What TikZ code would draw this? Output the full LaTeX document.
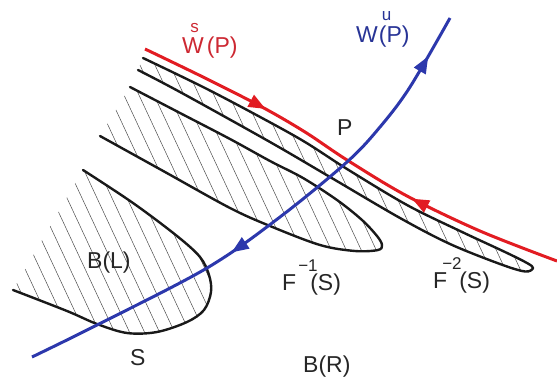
\documentclass[tikz,border=0pt]{standalone}
\usepackage{fontspec}
\setmainfont{Liberation Sans}
\usetikzlibrary{decorations.markings,arrows.meta}
\definecolor{wsred}{RGB}{226,28,34}
\definecolor{wublue}{RGB}{44,56,172}
\definecolor{wslab}{RGB}{205,40,50}
\definecolor{wulab}{RGB}{40,52,150}
\newcommand\supsz{\fontsize{17}{17}\selectfont}
\newcommand\tongueTwo{plot[smooth,tension=0.55] coordinates {(143,58) (205,88) (262,118) (305,142) (347,169) (407,205) (460,231) (505,252) (527,263) (533,268) (525,271.5) (500,264) (450,244) (400,218) (330,177) (270,142) (180,92) (138,70)}}
\newcommand\tongueOne{plot[smooth,tension=0.55] coordinates {(130,87) (180,113) (230,139) (270,161) (303,178) (337,200) (362,220) (377,236) (382,245) (378,250) (355,251) (320,245) (270,226) (230,208) (165,172) (100,136)}}
\newcommand\tongueS{plot[smooth,tension=0.55] coordinates {(83,170) (133,203) (177,236) (200,257) (209,275) (211,292) (204,310) (187,322) (157,332) (127,333) (97,324) (67,311) (13,290)}}
\tikzset{
  manifold/.style={line width=3pt},
  bdry/.style={line width=2.4pt, line join=round, line cap=round, black!90},
  hatchline/.style={line width=0.5pt, black!70},
  lab/.style={inner sep=0pt, anchor=base west, font=\fontsize{23}{26}\selectfont, text=black!85},
  headtip/.tip={Triangle[length=17pt,width=13pt]}
}
\begin{document}
\begin{tikzpicture}[x=1pt,y=-1pt]
\useasboundingbox (0,0) rectangle (557,378);
% hatching of the basin B(L)
\begin{scope}
  \clip \tongueTwo -- cycle \tongueOne -- cycle \tongueS -- cycle;
  \foreach \x in {-300,-285,...,600} \draw[hatchline] (\x,-10) -- ++(186.5,400);
\end{scope}
% boundaries
\draw[bdry] \tongueTwo;
\draw[bdry] \tongueOne;
\draw[bdry] \tongueS;
% stable manifold
\draw[manifold, wsred, postaction=decorate, decoration={markings,
   mark=at position 0.29 with {\arrow{headtip}},
   mark=at position 0.66 with {\arrowreversed{headtip}}}]
  plot[smooth,tension=0.55] coordinates {(145,49) (205,78) (262,107) (305,132) (347,160) (407,196) (480,231) (557,261)};
% unstable manifold
\draw[manifold, wublue, postaction=decorate, decoration={markings,
   mark=at position 0.41 with {\arrowreversed{headtip}},
   mark=at position 0.92 with {\arrow{headtip}}}]
  plot[smooth,tension=0.55] coordinates {(32,357) (97,325) (207,268) (280,217) (347,162) (380,127) (410,87) (450,18)};
% labels
\node[lab, text=wslab] (ws) at (182,53) {W\llap{\raisebox{21pt}{\supsz s}\kern5pt}\kern3pt(P)};
\node[lab, text=wulab] (wu) at (356,42) {W\rlap{\kern4pt\raisebox{22pt}{\supsz u}}\kern1pt(P)};
\node[lab] (p) at (337,135) {P};
\node[lab] (bl) at (87,268) {B(L)};
\node[lab] (s) at (130,365) {S};
\node[lab] (f1) at (282,290) {F\rlap{\kern2pt\raisebox{19pt}{\supsz −1}}\kern14pt(S)};
\node[lab] (f2) at (433,288) {F\rlap{\kern-5pt\raisebox{19pt}{\supsz −2}}\kern12pt(S)};
\node[lab] (br) at (303,372) {B(R)};
\end{tikzpicture}
\end{document}
